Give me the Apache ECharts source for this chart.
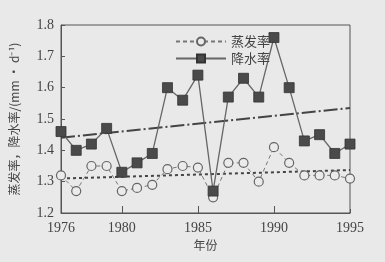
<!DOCTYPE html>
<html>
<head>
<meta charset="utf-8">
<script src="https://cdn.jsdelivr.net/npm/echarts@6/dist/echarts.min.js"></script>
<style>
  html, body { margin: 0; padding: 0; background: #e9e9e9; }
  #chart { width: 385px; height: 262px; }
</style>
</head>
<body>
<div id="chart"></div>
<script>
// 年份
var years = ['1976','1977','1978','1979','1980','1981','1982','1983','1984','1985',
             '1986','1987','1988','1989','1990','1991','1992','1993','1994','1995'];
var shownYears = ['1976','1980','1985','1990','1995'];
var longTickYears = ['1980','1985','1990'];
// 蒸发率
var evap = [1.32, 1.27, 1.35, 1.35, 1.27, 1.28, 1.29, 1.34, 1.35, 1.345,
            1.25, 1.36, 1.36, 1.30, 1.41, 1.36, 1.32, 1.32, 1.32, 1.31];
// 降水率
var precip = [1.46, 1.40, 1.42, 1.47, 1.33, 1.36, 1.39, 1.60, 1.56, 1.64,
              1.27, 1.57, 1.63, 1.57, 1.76, 1.60, 1.43, 1.45, 1.39, 1.42];
// 趋势线 (首、末年份的值)
var evapTrend = [1.31, 1.337];
var precipTrend = [1.44, 1.535];

function trendData(ends) {
  var d = years.map(function () { return null; });
  d[0] = ends[0];
  d[d.length - 1] = ends[1];
  return d;
}

var serif = 'Liberation Serif';
var myChart = echarts.init(document.getElementById('chart'));
var option = {
  backgroundColor: '#e9e9e9',
  animation: false,
  grid: {
    left: 57, right: 35, top: 25, bottom: 49,
    show: true, borderColor: '#555', borderWidth: 1
  },
  legend: {
    orient: 'vertical',
    left: 170, top: 30,
    itemWidth: 50, itemHeight: 10, itemGap: 4,
    data: ['蒸发率', '降水率'],
    textStyle: { fontFamily: 'Noto Sans CJK SC', fontSize: 13, color: '#444' }
  },
  xAxis: [
    {
      type: 'category',
      data: years,
      boundaryGap: false,
      name: '年份',
      nameLocation: 'middle',
      nameGap: 24,
      nameTextStyle: { fontFamily: 'Noto Sans CJK SC', fontSize: 12, color: '#444' },
      axisLine: { lineStyle: { color: '#555', width: 1 } },
      axisTick: { inside: true, length: 4, lineStyle: { color: '#555' } },
      axisLabel: {
        interval: function (i, v) { return shownYears.indexOf(v) >= 0; },
        fontFamily: serif, fontSize: 14, color: '#444', margin: 8
      },
      splitLine: { show: false }
    },
    {
      type: 'category',
      data: years,
      boundaryGap: false,
      position: 'bottom',
      axisLine: { show: false },
      axisTick: {
        inside: true, length: 7, lineStyle: { color: '#555' },
        interval: function (i, v) { return longTickYears.indexOf(v) >= 0; }
      },
      axisLabel: { show: false },
      splitLine: { show: false }
    }
  ],
  yAxis: {
    type: 'value',
    min: 1.2, max: 1.8, interval: 0.1,
    name: '蒸发率，降水率/(mm · d⁻¹)',
    nameLocation: 'middle',
    nameGap: 41,
    nameTextStyle: { fontFamily: 'Noto Sans CJK SC', fontSize: 12, color: '#444' },
    axisLine: { show: true, lineStyle: { color: '#555', width: 1 } },
    axisTick: { show: true, inside: true, length: 4, lineStyle: { color: '#555' } },
    axisLabel: {
      formatter: function (v) { return v.toFixed(1); },
      fontFamily: serif, fontSize: 14, color: '#444', margin: 7
    },
    splitLine: { show: false }
  },
  series: [
    {
      name: '蒸发率',
      type: 'line',
      data: evap,
      symbol: 'circle',
      symbolSize: 9,
      showAllSymbol: true,
      lineStyle: { color: '#777', width: 1, type: [4, 3] },
      itemStyle: { color: '#ebebeb', borderColor: '#666', borderWidth: 1.2 },
      z: 3
    },
    {
      name: '降水率',
      type: 'line',
      data: precip,
      symbol: 'rect',
      symbolSize: 10,
      showAllSymbol: true,
      lineStyle: { color: '#666', width: 1.3 },
      itemStyle: { color: '#4a4a4a', borderColor: '#333', borderWidth: 0.8 },
      z: 3
    },
    {
      name: '蒸发率趋势',
      type: 'line',
      data: trendData(evapTrend),
      connectNulls: true,
      symbol: 'none',
      lineStyle: { color: '#444', width: 2, type: [3, 3] },
      z: 2
    },
    {
      name: '降水率趋势',
      type: 'line',
      data: trendData(precipTrend),
      connectNulls: true,
      symbol: 'none',
      lineStyle: { color: '#444', width: 2, type: [14, 3, 2, 3] },
      z: 2
    }
  ]
};
myChart.setOption(option);
</script>
</body>
</html>
